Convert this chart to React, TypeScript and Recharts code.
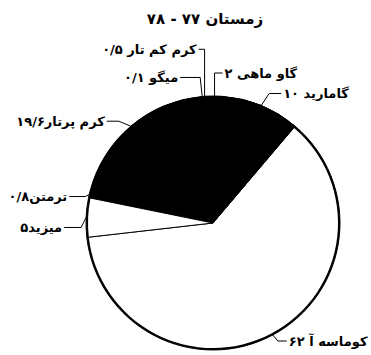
import React from 'react';
import { PieChart, Pie, Cell } from 'recharts';

const title = 'زمستان ۷۷ - ۷۸';
const categories = ['کوماسه آ', 'گامارید', 'گاو ماهی', 'کرم کم تار', 'میگو', 'کرم پرتار', 'ترمتن', 'میزید'];
const values = [62, 10, 2, 0.5, 0.1, 19.6, 0.8, 5];
const labelTexts = ['کوماسه آ ۶۲', 'گامارید ۱۰', 'گاو ماهی ۲', 'کرم کم تار ۰/۵', 'میگو ۰/۱', 'کرم پرتار۱۹/۶', 'ترمتن۰/۸', 'میزید۵'];
const fills = ['#ffffff', '#000000', '#000000', '#000000', '#000000', '#000000', '#000000', '#ffffff'];

const data = categories.map((name, i) => ({ name, value: values[i], label: labelTexts[i] }));

// leader layout: dy = vertical offset of text row from anchor, ex = elbow x offset, hx = horizontal run
const leaderLayout = [
  { dy: 6, ex: 5, hx: 9 },
  { dy: -12, ex: 8, hx: 12 },
  { dy: -23, ex: 0, hx: 8 },
  { dy: -47, ex: 0, hx: -6 },
  { dy: -19, ex: -2, hx: -20 },
  { dy: -5, ex: -12, hx: -12 },
  { dy: 2, ex: -4, hx: -16 },
  { dy: 10, ex: -5, hx: -17 },
];

const RAD = Math.PI / 180;

const renderLabel = (props: any) => {
  const { cx, cy, midAngle, outerRadius, index } = props;
  const L = leaderLayout[index];
  const ax = cx + outerRadius * Math.cos(-midAngle * RAD);
  const ay = cy + outerRadius * Math.sin(-midAngle * RAD);
  const ey = ay + L.dy;
  const exx = ax + L.ex;
  const endX = exx + L.hx;
  const right = L.hx > 0;
  return (
    <g key={`lbl-${index}`}>
      <polyline
        points={`${ax},${ay} ${exx},${ey} ${endX},${ey}`}
        fill="none"
        stroke="#000"
        strokeWidth={1}
      />
      <text
        x={right ? endX + 2 : endX - 2}
        y={ey}
        textAnchor={right ? 'start' : 'end'}
        dominantBaseline="central"
        fontFamily="DejaVu Sans"
        fontWeight="bold"
        fontSize={13}
        fill="#000"
      >
        {data[index].label}
      </text>
    </g>
  );
};

export default function App() {
  return (
    <div style={{ position: 'absolute', left: 0, top: 0, width: 371, height: 355, background: '#fff' }}>
      <div
        style={{
          position: 'absolute',
          left: 0,
          top: 10,
          width: 410,
          textAlign: 'center',
          fontFamily: 'DejaVu Sans',
          fontWeight: 'bold',
          fontSize: 15,
          lineHeight: '18px',
          color: '#000',
        }}
      >
        {title}
      </div>
      <PieChart width={371} height={355} margin={{ top: 0, right: 0, bottom: 0, left: 0 }}>
        <Pie
          data={data}
          dataKey="value"
          nameKey="name"
          cx={213}
          cy={223}
          outerRadius={127}
          startAngle={186.5}
          endAngle={546.5}
          isAnimationActive={false}
          label={renderLabel}
          labelLine={false}
        >
          {data.map((d, i) => (
            <Cell key={d.name} fill={fills[i]} stroke="#000" strokeWidth={1} />
          ))}
        </Pie>
        <Pie
          data={data}
          dataKey="value"
          cx={213}
          cy={223}
          innerRadius={125}
          outerRadius={127}
          startAngle={186.5}
          endAngle={546.5}
          isAnimationActive={false}
          fill="#000"
          stroke="none"
          label={false}
          labelLine={false}
        />
      </PieChart>
    </div>
  );
}
